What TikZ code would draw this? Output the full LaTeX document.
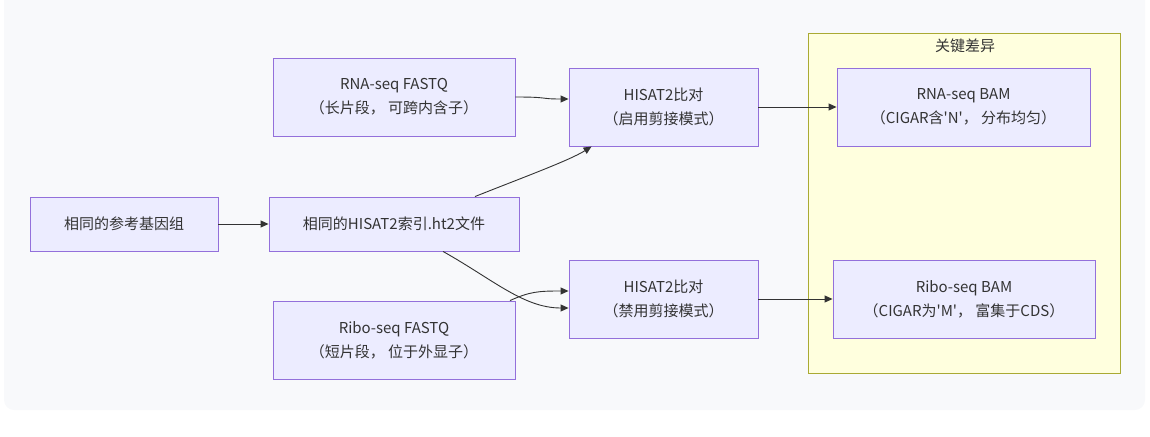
\documentclass[tikz,border=0pt]{standalone}
\usepackage{fontspec}
\setmainfont{Noto Sans CJK SC}
\usepackage{tikz}
\usetikzlibrary{positioning,calc,arrows.meta}

\definecolor{panelbg}{HTML}{F8F9FB}
\definecolor{boxfill}{HTML}{ECECFF}
\definecolor{boxline}{HTML}{9370DB}
\definecolor{grpfill}{HTML}{FFFFDE}
\definecolor{grpline}{HTML}{AAAA33}
\definecolor{ink}{HTML}{333333}

\tikzset{
  stepbox/.style={draw=boxline, fill=boxfill, line width=0.9pt, align=center,
    text=ink, inner sep=0pt, font=\fontsize{15}{24}\selectfont},
  link/.style={draw=ink, line width=0.9pt, -{Triangle[length=8pt,width=7pt]}}
}

\begin{document}
\begin{tikzpicture}[x=1pt,y=-1pt]
\useasboundingbox (0,0) rectangle (1150,436);
\fill[panelbg, rounded corners=10pt] (4,-12) rectangle (1145,410);

% group with the two BAM results
\draw[grpline, fill=grpfill, line width=0.9pt] (808,33) rectangle (1120,373);
\node[text=ink, font=\fontsize{15}{20}\selectfont] (diff) at (965,46) {关键差异};

% inputs
\node[stepbox, minimum width=188pt, minimum height=54pt] (ref) at (124,224) {相同的参考基因组};
\node[stepbox, minimum width=250pt, minimum height=54pt] (idx) at (394,224) {相同的HISAT2索引.ht2文件};
\node[stepbox, minimum width=242pt, minimum height=78pt] (rnafq) at (394,97) {RNA-seq FASTQ\\（长片段， 可跨内含子）};
\node[stepbox, minimum width=242pt, minimum height=78pt] (ribofq) at (394,340) {Ribo-seq FASTQ\\（短片段， 位于外显子）};

% alignment
\node[stepbox, minimum width=189pt, minimum height=78pt] (rnamap) at (663.5,107) {HISAT2比对\\（启用剪接模式）};
\node[stepbox, minimum width=189pt, minimum height=78pt] (ribomap) at (663.5,299) {HISAT2比对\\（禁用剪接模式）};

% results
\node[stepbox, minimum width=253pt, minimum height=78pt] (rnabam) at (963.5,107) {RNA-seq BAM\\（CIGAR含\textquotesingle N\textquotesingle， 分布均匀）};
\node[stepbox, minimum width=262pt, minimum height=78pt] (ribobam) at (964,299) {Ribo-seq BAM\\（CIGAR为\textquotesingle M\textquotesingle， 富集于CDS）};

\draw[link] (ref) -- (idx);
\draw[link] (rnafq.east) .. controls +(35,0) and +(-30,0) .. ($(rnamap.west)+(0,-8)$);
\draw[link] ($(idx.north)+(81,0)$) .. controls +(45,-18) and +(-22,14) .. ($(rnamap.south west)+(23,0)$);
\draw[link] ($(idx.south)+(49,0)$) .. controls +(50,28) and +(-45,0) .. ($(ribomap.west)+(0,9)$);
\draw[link] ($(ribofq.north)+(116,0)$) .. controls +(20,-9) and +(-30,0) .. ($(ribomap.west)+(0,-8)$);
\draw[link] (rnamap) -- (rnabam);
\draw[link] (ribomap) -- (ribobam);
\end{tikzpicture}
\end{document}
